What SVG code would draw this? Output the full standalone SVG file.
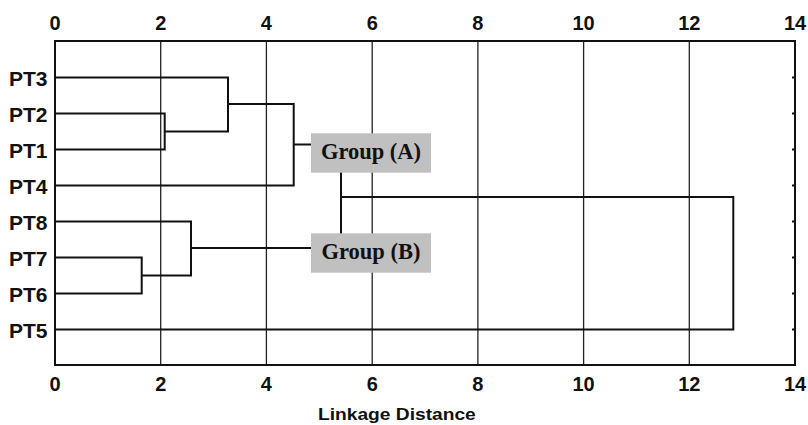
<svg xmlns="http://www.w3.org/2000/svg" width="808" height="425" viewBox="0 0 808 425">
  <style>
    .axis { font-family: "Liberation Sans", Arial, sans-serif; font-weight: bold; font-size: 20px; fill: #111; }
    .leaf { font-family: "Liberation Sans", Arial, sans-serif; font-weight: bold; font-size: 21px; fill: #111; text-anchor: end; }
    .num { text-anchor: middle; }
    .grid { stroke: #222; stroke-width: 1.3; fill: none; }
    .frame { stroke: #111; stroke-width: 2; fill: none; }
    .link { stroke: #111; stroke-width: 2; fill: none; }
    .tag rect { fill: #c0c0c0; }
    .tag text { font-family: "Liberation Serif", "Times New Roman", serif; font-weight: bold; font-size: 22.5px; fill: #111; text-anchor: middle; }
  </style>
  <rect width="808" height="425" fill="#fff"/>

  <!-- vertical grid lines at 2..12 -->
  <g id="grid" class="grid">
    <line x1="160.7" y1="41" x2="160.7" y2="365"/>
    <line x1="266.4" y1="41" x2="266.4" y2="365"/>
    <line x1="372.2" y1="41" x2="372.2" y2="365"/>
    <line x1="477.9" y1="41" x2="477.9" y2="365"/>
    <line x1="583.6" y1="41" x2="583.6" y2="365"/>
    <line x1="689.3" y1="41" x2="689.3" y2="365"/>
  </g>

  <!-- plot frame with inward ticks on the right edge -->
  <g id="frame">
    <rect class="frame" x="55" y="41" width="740" height="324"/>
    <g class="frame">
      <line x1="795" y1="77.5" x2="792" y2="77.5"/>
      <line x1="795" y1="113.5" x2="792" y2="113.5"/>
      <line x1="795" y1="149.5" x2="792" y2="149.5"/>
      <line x1="795" y1="185.5" x2="792" y2="185.5"/>
      <line x1="795" y1="221.5" x2="792" y2="221.5"/>
      <line x1="795" y1="257.5" x2="792" y2="257.5"/>
      <line x1="795" y1="293.5" x2="792" y2="293.5"/>
      <line x1="795" y1="329.5" x2="792" y2="329.5"/>
    </g>
  </g>

  <!-- axis scale labels, top and bottom -->
  <g id="axis-top" class="axis num">
    <text x="55" y="30">0</text>
    <text x="160.7" y="30">2</text>
    <text x="266.4" y="30">4</text>
    <text x="372.2" y="30">6</text>
    <text x="477.9" y="30">8</text>
    <text x="583.6" y="30">10</text>
    <text x="689.3" y="30">12</text>
    <text x="795" y="30">14</text>
  </g>
  <g id="axis-bottom" class="axis num">
    <text x="55" y="391">0</text>
    <text x="160.7" y="391">2</text>
    <text x="266.4" y="391">4</text>
    <text x="372.2" y="391">6</text>
    <text x="477.9" y="391">8</text>
    <text x="583.6" y="391">10</text>
    <text x="689.3" y="391">12</text>
    <text x="795" y="391">14</text>
  </g>
  <text id="axis-title" transform="translate(318 420) scale(1.2 1)" x="0" y="0" style="font-family:'Liberation Sans',Arial,sans-serif;font-weight:bold;font-size:16px;fill:#111">Linkage Distance</text>

  <!-- dendrogram links -->
  <g id="connectors" class="link">
    <!-- PT2 + PT1 -->
    <path d="M55 113.5 H164.7 V149.5 H55"/>
    <!-- PT3 + (PT2,PT1) -->
    <path d="M55 77.5 H228 V131.5 H164.7"/>
    <!-- PT4 + cluster -->
    <path d="M228 104 H293.7 V185.5 H55"/>
    <path d="M293.7 144.5 H311"/>
    <!-- PT7 + PT6 -->
    <path d="M55 257.5 H141.7 V293.5 H55"/>
    <!-- PT8 + (PT7,PT6) -->
    <path d="M55 221.5 H191 V275.5 H141.7"/>
    <path d="M191 248 H311"/>
    <!-- Group A + Group B -->
    <path d="M341 144.5 V248"/>
    <path d="M341 197 H733.3 V329.5 H55"/>
  </g>

  <!-- leaf labels -->
  <g id="PT3"><text class="leaf" x="47.5" y="85.5">PT3</text></g>
  <g id="PT2"><text class="leaf" x="47.5" y="121.5">PT2</text></g>
  <g id="PT1"><text class="leaf" x="47.5" y="157.5">PT1</text></g>
  <g id="PT4"><text class="leaf" x="47.5" y="193.5">PT4</text></g>
  <g id="PT8"><text class="leaf" x="47.5" y="229.5">PT8</text></g>
  <g id="PT7"><text class="leaf" x="47.5" y="265.5">PT7</text></g>
  <g id="PT6"><text class="leaf" x="47.5" y="301.5">PT6</text></g>
  <g id="PT5"><text class="leaf" x="47.5" y="337.5">PT5</text></g>

  <!-- cluster tags -->
  <g id="group-a" class="tag">
    <rect x="311" y="133.3" width="120" height="39.4"/>
    <text x="371" y="159">Group (A)</text>
  </g>
  <g id="group-b" class="tag">
    <rect x="311" y="233.3" width="120" height="39.4"/>
    <text x="371" y="259">Group (B)</text>
  </g>
</svg>
